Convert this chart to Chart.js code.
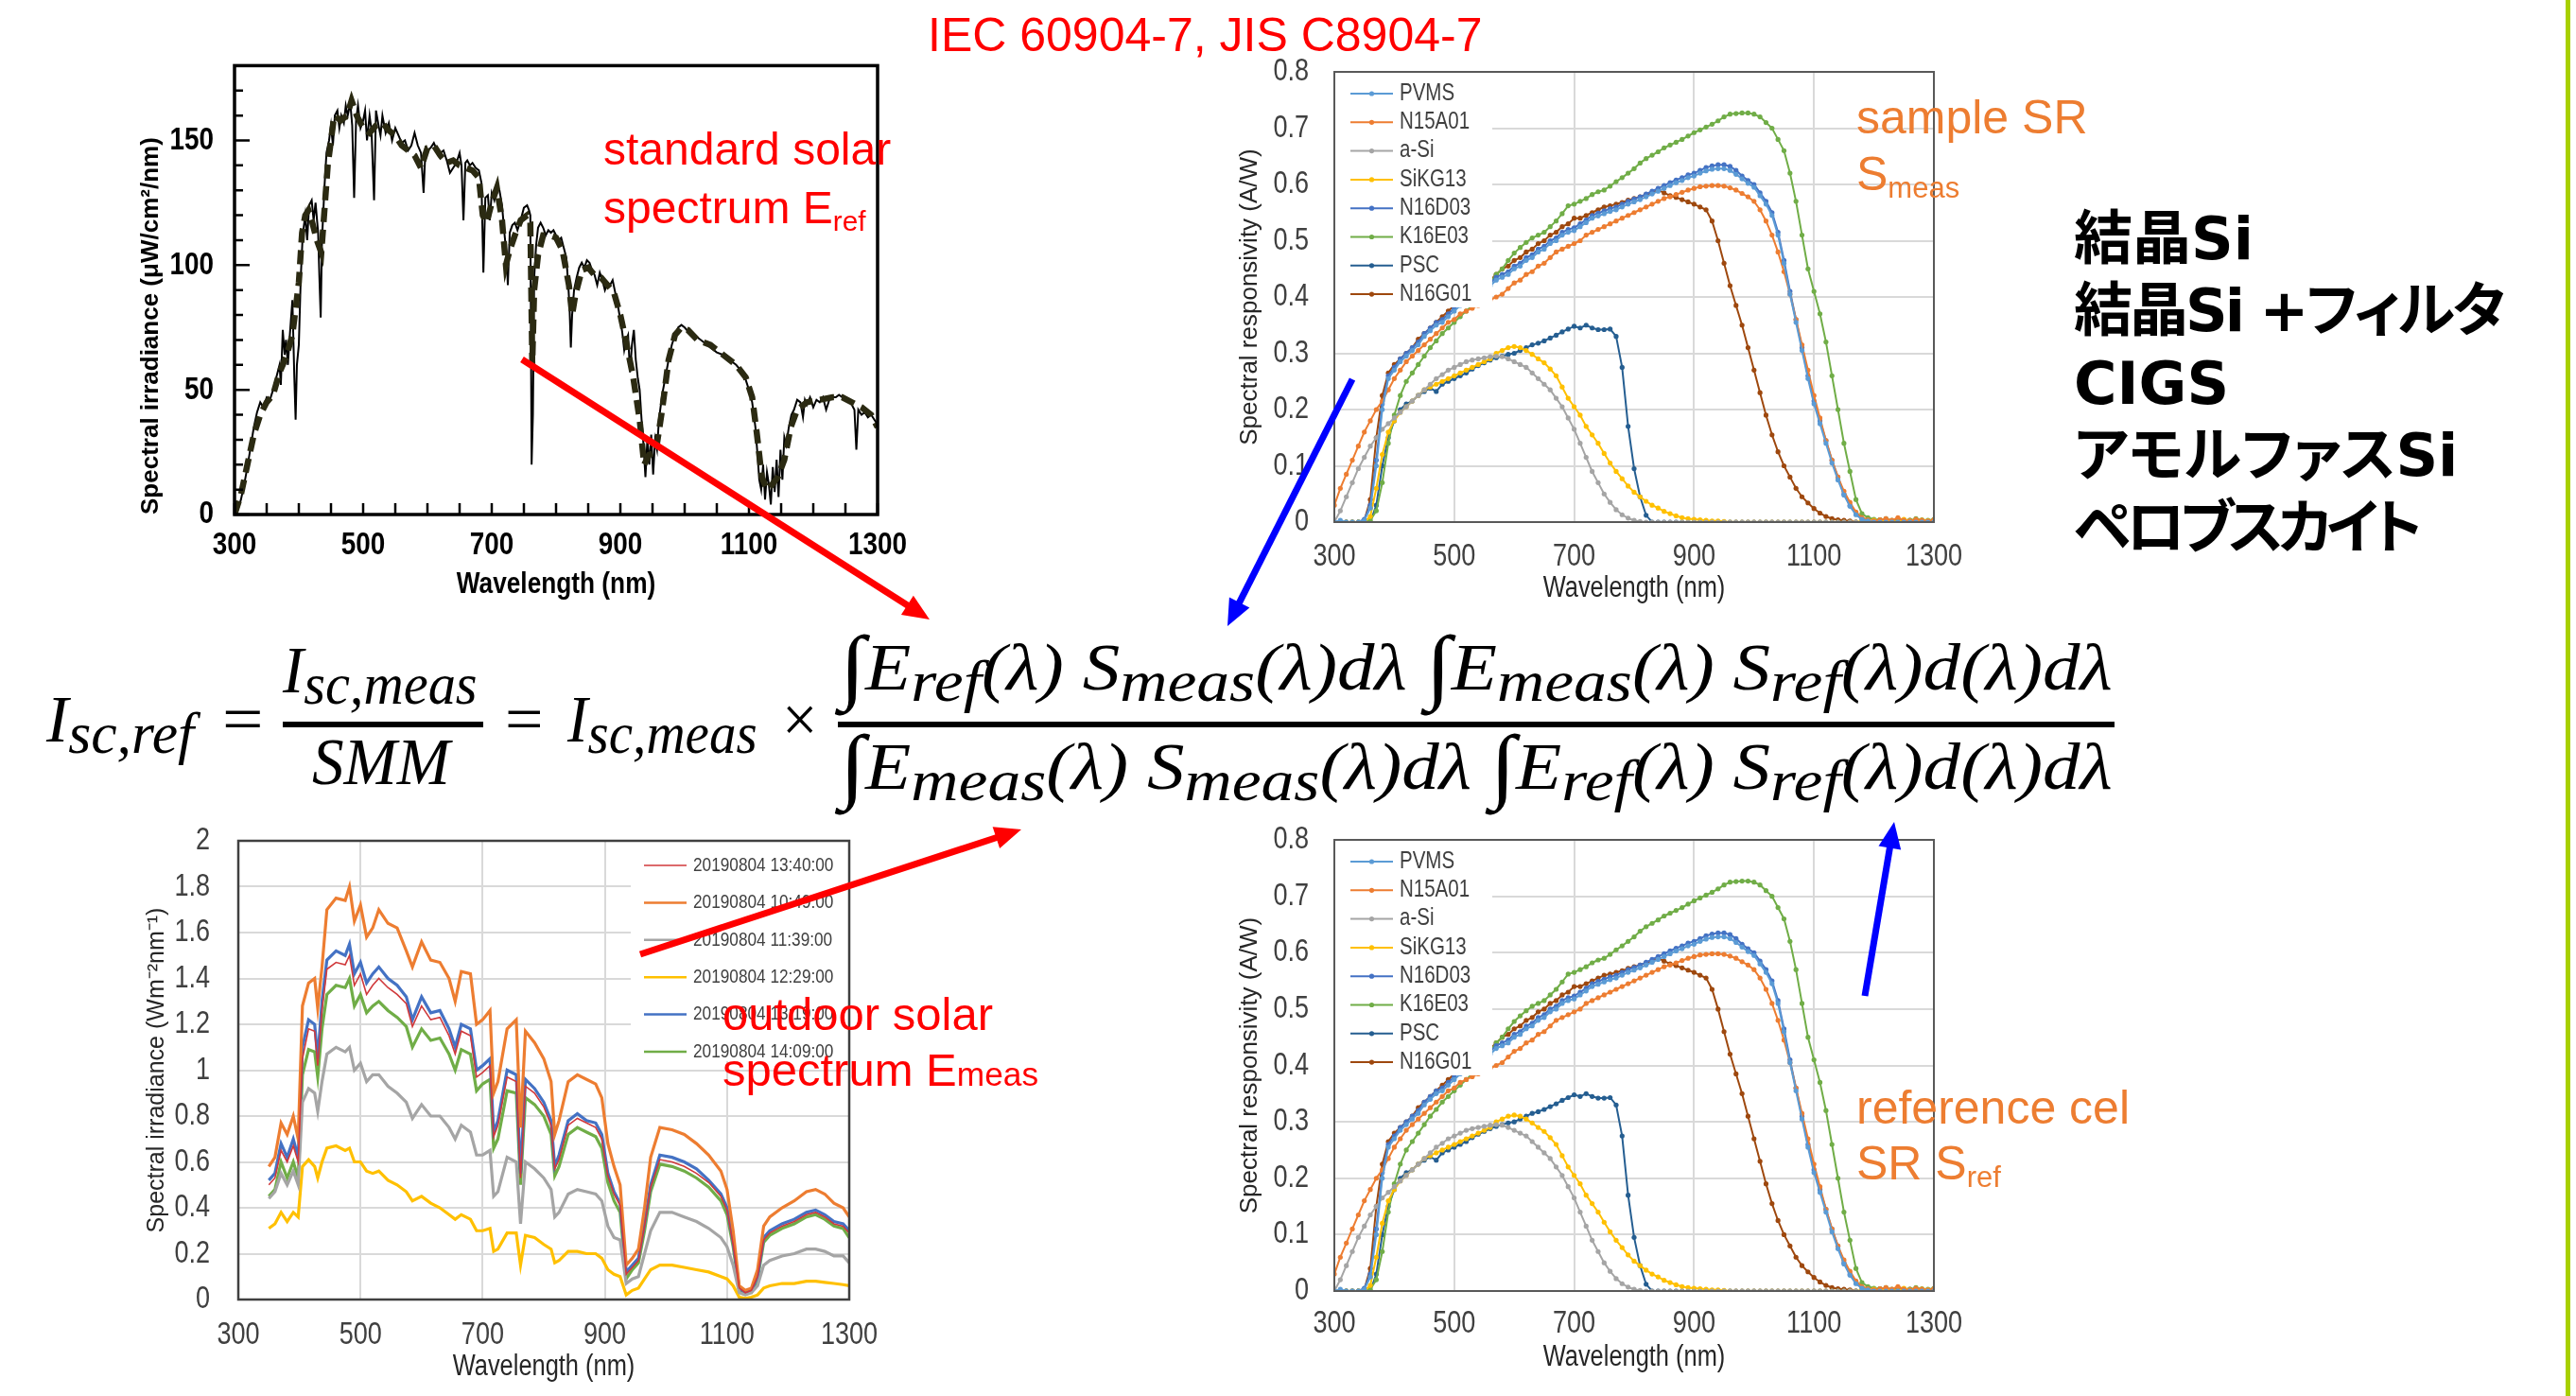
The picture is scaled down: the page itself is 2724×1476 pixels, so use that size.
<!DOCTYPE html>
<html>
<head>
<meta charset="utf-8">
<title>SMM spectral mismatch</title>
<script src="https://cdn.jsdelivr.net/npm/chart.js@4.4.1/dist/chart.umd.min.js"></script>
<style>
  html, body { margin: 0; padding: 0; background: #fff; }
  body { position: relative; width: 2724px; height: 1476px; overflow: hidden; }
  .panel { position: absolute; }
  .txt { position: absolute; white-space: nowrap; line-height: 1; font-family: "Liberation Sans", Arial, sans-serif; }
  .txt sub { font-size: 0.62em; line-height: 0; position: relative; top: 0.26em; vertical-align: baseline; }
  .txt .sm { font-size: 0.72em; }
  .red { color: #ff0000; }
  .orange { color: #ed7d31; }
  .eq { position: absolute; white-space: nowrap; line-height: 1; font-family: "Liberation Serif", serif; font-style: italic; font-size: 70px; transform-origin: 0 0; color: #000; }
  .eq.up { font-style: normal; }
  .eq sub { font-size: 0.88em; line-height: 0; position: relative; top: 0.2em; vertical-align: baseline; }
  .eq .int { font-style: normal; font-size: 1.25em; line-height: 0; position: relative; top: 0.04em; }
  .bar { position: absolute; background: #000; }
  .jp { position: absolute; white-space: nowrap; line-height: 1; font-family: "DejaVu Sans", "Noto Sans CJK JP", sans-serif; font-weight: bold; font-size: 62px; font-feature-settings: "palt"; color: #000; }
  .edge { position: absolute; left: 2713px; top: 0; width: 5px; height: 1476px; background: #a8d000; }
</style>
</head>
<body>

<div class="panel" style="left:118px;top:49px;width:850px;height:605px"><canvas id="am15"></canvas></div>
<div class="panel" style="left:1281px;top:56px;width:804px;height:596px"><canvas id="srTop"></canvas></div>
<div class="panel" style="left:122px;top:869px;width:816px;height:605px"><canvas id="outdoor"></canvas></div>
<div class="panel" style="left:1281px;top:868px;width:804px;height:597px"><canvas id="srBottom"></canvas></div>

<div class="txt red" style="left:981px;top:12px;font-size:50px">IEC 60904-7, JIS C8904-7</div>
<div class="txt red" style="left:638px;top:134px;font-size:48px">standard solar</div>
<div class="txt red" style="left:638px;top:196px;font-size:48px">spectrum E<sub>ref</sub></div>
<div class="txt orange" style="left:1963px;top:99px;font-size:50px">sample SR</div>
<div class="txt orange" style="left:1963px;top:159px;font-size:50px">S<sub>meas</sub></div>
<div class="txt red" style="left:764px;top:1048px;font-size:49px">outdoor solar</div>
<div class="txt red" style="left:764px;top:1107px;font-size:49px">spectrum E<span class="sm">meas</span></div>
<div class="txt orange" style="left:1963px;top:1146px;font-size:50px">reference cel</div>
<div class="txt orange" style="left:1963px;top:1205px;font-size:50px">SR S<sub>ref</sub></div>

<div class="jp" style="left:2193px;top:222px">結晶Si</div>
<div class="jp" style="left:2193px;top:298px;letter-spacing:-3px">結晶Si +フィルタ</div>
<div class="jp" style="left:2193px;top:375px">CIGS</div>
<div class="jp" style="left:2193px;top:451px">アモルファスSi</div>
<div class="jp" style="left:2193px;top:528px;letter-spacing:-6px">ペロブスカイト</div>

<div class="eq" data-w="156" style="left:49px;top:726px">I<sub>sc,ref</sub></div>
<div class="eq up" data-w="43" style="left:235px;top:726px">=</div>
<div class="eq" data-w="206" style="left:299px;top:674px">I<sub>sc,meas</sub></div>
<div class="bar" style="left:299px;top:763px;width:212px;height:6px"></div>
<div class="eq" data-w="146" style="left:330px;top:771px">SMM</div>
<div class="eq up" data-w="40" style="left:534px;top:726px">=</div>
<div class="eq" data-w="201" style="left:600px;top:726px">I<sub>sc,meas</sub></div>
<div class="eq up" data-w="37" style="left:827px;top:726px">×</div>
<div class="eq" data-w="1346" style="left:888px;top:671px"><span class="int">∫</span>E<sub>ref</sub>(λ) S<sub>meas</sub>(λ)dλ <span class="int">∫</span>E<sub>meas</sub>(λ) S<sub>ref</sub>(λ)d(λ)dλ</div>
<div class="bar" style="left:886px;top:763px;width:1350px;height:6px"></div>
<div class="eq" data-w="1346" style="left:888px;top:776px"><span class="int">∫</span>E<sub>meas</sub>(λ) S<sub>meas</sub>(λ)dλ <span class="int">∫</span>E<sub>ref</sub>(λ) S<sub>ref</sub>(λ)d(λ)dλ</div>

<div class="edge"></div>

<script>
// ---- standard solar spectrum (top left) ----
const AM_WL = [300,305,310,315,320,325,330,335,340,345,350,355,360,365,370,372,375,378,380,383,386,390,393,395,397,400,403,406,410,413,416,420,423,426,430,432,434,436,440,443,447,450,453,456,460,463,466,470,473,476,480,483,486,489,492,496,500,503,506,510,513,517,520,524,527,530,535,540,545,550,555,560,565,570,575,580,585,590,594,597,600,605,610,615,620,625,630,635,640,645,650,653,656,659,662,666,670,675,680,684,687,690,694,697,700,704,708,712,716,720,723,725,728,732,736,740,745,750,755,758,760,762,764,766,769,772,776,780,784,788,792,796,800,804,808,812,816,819,821,823,825,828,832,836,840,844,848,852,856,860,864,868,872,876,880,884,888,892,896,900,903,906,909,912,915,918,921,924,927,930,933,936,939,942,945,948,951,954,957,960,965,970,975,980,985,990,995,1000,1010,1020,1030,1040,1050,1060,1070,1080,1090,1095,1100,1105,1110,1113,1116,1119,1122,1125,1128,1131,1134,1137,1140,1143,1146,1149,1152,1155,1158,1162,1166,1170,1175,1180,1184,1187,1190,1195,1200,1205,1210,1215,1220,1225,1230,1235,1240,1245,1250,1255,1260,1264,1267,1270,1275,1280,1285,1290,1295,1300];
const AM_VAL = [0,2,6,12,19,27,35,41,45,43,47,46,50,55,60,52,74,64,70,60,72,86,55,38,60,68,95,112,120,110,124,126,118,125,113,95,79,110,132,145,150,156,148,160,162,155,160,157,164,160,165,156,127,158,164,155,158,162,150,160,154,126,162,156,152,160,153,157,150,155,152,149,150,146,148,153,148,145,129,147,146,147,149,146,145,146,142,137,139,141,145,140,118,141,142,140,141,139,138,133,97,127,128,118,129,126,131,130,124,112,104,92,113,116,117,114,118,123,124,122,120,20,40,95,108,115,117,115,112,114,113,114,112,110,111,107,103,92,83,67,80,90,95,99,101,99,102,101,98,96,92,97,94,90,93,92,94,89,84,78,73,66,70,72,57,68,74,62,55,50,38,28,15,30,20,32,16,30,26,38,48,55,62,68,72,75,76,75,72,71,69,67,65,64,62,60,57,54,50,45,35,25,14,10,20,6,17,12,4,19,9,22,7,26,14,31,28,35,40,42,46,45,39,46,44,47,43,46,45,47,42,46,47,47,48,47,46,46,44,42,26,42,40,41,39,40,38,36];
const AMS_WL = [300,310,320,330,340,350,360,370,380,390,400,405,410,415,420,428,435,445,455,465,475,482,490,500,510,520,530,540,550,560,570,580,590,600,610,620,630,640,650,660,670,680,686,692,700,708,716,722,728,736,745,755,760,763,766,772,780,790,800,810,820,825,830,840,850,860,870,880,890,900,910,920,930,937,945,955,965,975,985,995,1005,1020,1040,1060,1080,1095,1105,1112,1120,1128,1136,1145,1155,1165,1175,1190,1210,1230,1245,1260,1275,1290,1300];
const AMS_VAL = [0,8,20,32,40,45,48,57,63,72,93,113,120,122,118,110,105,140,160,158,160,166,160,155,153,156,157,154,152,148,146,144,139,147,148,144,141,142,140,139,138,135,120,117,125,131,118,100,106,112,118,120,117,60,90,104,112,112,111,106,92,80,88,98,99,96,95,92,89,80,68,55,38,20,24,25,42,62,72,75,74,70,68,64,60,55,47,33,15,10,12,15,22,35,42,45,46,47,47,45,43,40,35];

// ---- spectral responsivity (top right / bottom right) ----
const SR_WL = [300,310,320,330,340,350,360,370,380,390,400,410,420,430,440,450,460,470,480,490,500,510,520,530,540,550,560,570,580,590,600,610,620,630,640,650,660,670,680,690,700,710,720,730,740,750,760,770,780,790,800,810,820,830,840,850,860,870,880,890,900,910,920,930,940,950,960,970,980,990,1000,1010,1020,1030,1040,1050,1060,1070,1080,1090,1100,1110,1120,1130,1140,1150,1160,1170,1180,1190,1200,1210,1220,1230,1240,1250,1260,1270,1280,1290,1300];
const SR_NAMES = ['PVMS','N15A01','a-Si','SiKG13','N16D03','K16E03','PSC','N16G01'];
const SR_COLORS = ['#5b9bd5','#ed7d31','#a5a5a5','#ffc000','#4472c4','#70ad47','#255e91','#9e480e'];
const SR_PVMS = [0,0.003,0,0,0,0.003,0.025,0.10,0.20,0.255,
  0.27,0.285,0.295,0.305,0.315,0.33,0.34,0.35,0.355,0.365,
  0.375,0.385,0.395,0.40,0.405,0.415,0.42,0.43,0.435,0.44,
  0.45,0.455,0.465,0.47,0.48,0.485,0.495,0.50,0.51,0.515,
  0.518,0.525,0.532,0.54,0.544,0.548,0.552,0.555,0.56,0.565,
  0.569,0.573,0.578,0.583,0.588,0.593,0.598,0.603,0.607,0.612,
  0.615,0.62,0.624,0.627,0.628,0.628,0.625,0.618,0.61,0.602,
  0.595,0.58,0.565,0.545,0.51,0.46,0.405,0.355,0.305,0.255,
  0.21,0.175,0.14,0.105,0.075,0.048,0.028,0.013,0.005,0.002,
  0,0,0,0,0,0,0,0,0,0,0];
const SR_N15A01 = [0.03,0.06,0.085,0.11,0.135,0.16,0.18,0.20,0.215,0.235,
  0.255,0.27,0.285,0.295,0.305,0.315,0.325,0.335,0.345,0.355,
  0.36,0.37,0.375,0.38,0.385,0.39,0.395,0.40,0.405,0.415,
  0.425,0.43,0.44,0.445,0.455,0.46,0.47,0.48,0.485,0.49,
  0.495,0.50,0.51,0.515,0.52,0.525,0.53,0.535,0.54,0.545,
  0.55,0.555,0.56,0.565,0.57,0.575,0.578,0.582,0.586,0.59,
  0.593,0.596,0.597,0.598,0.598,0.597,0.594,0.59,0.584,0.578,
  0.57,0.555,0.535,0.51,0.48,0.445,0.405,0.36,0.315,0.27,
  0.225,0.185,0.145,0.11,0.08,0.055,0.035,0.018,0.008,0.004,
  0.002,0.004,0.006,0.003,0.008,0.003,0.002,0.005,0.003,0.002,0.004];
const SR_ASI = [0,0.02,0.045,0.07,0.095,0.115,0.135,0.15,0.165,0.175,
  0.185,0.195,0.205,0.215,0.225,0.235,0.245,0.255,0.262,0.27,
  0.275,0.28,0.285,0.288,0.29,0.292,0.294,0.295,0.294,0.29,
  0.285,0.28,0.275,0.265,0.255,0.245,0.235,0.22,0.205,0.185,
  0.165,0.14,0.115,0.09,0.07,0.05,0.035,0.022,0.013,0.007,
  0.003,0.001,0,0,0,0,0,0,0,0,
  0,0,0,0,0,0,0,0,0,0,
  0,0,0,0,0,0,0,0,0,0,
  0,0,0,0,0,0,0,0,0,0,
  0,0,0,0,0,0,0,0,0,0,0];
const SR_SIKG13 = [0,0,0,0,0,0,0.01,0.06,0.12,0.16,
  0.18,0.195,0.205,0.215,0.225,0.235,0.24,0.245,0.25,0.255,
  0.26,0.265,0.27,0.275,0.28,0.285,0.29,0.30,0.305,0.31,
  0.312,0.31,0.305,0.298,0.29,0.283,0.272,0.26,0.24,0.22,
  0.205,0.19,0.17,0.155,0.14,0.122,0.105,0.09,0.077,0.064,
  0.053,0.045,0.037,0.03,0.025,0.019,0.015,0.011,0.008,0.006,
  0.005,0.004,0.003,0.002,0.002,0.001,0,0,0,0,
  0,0,0,0,0,0,0,0,0,0,
  0,0,0,0,0,0,0,0,0.002,0,
  0.003,0,0.004,0.002,0,0.005,0.002,0,0.003,0.002,0];
const SR_N16D03 = [0,0,0,0,0,0.005,0.03,0.11,0.21,0.26,
  0.275,0.29,0.30,0.31,0.32,0.335,0.345,0.355,0.36,0.37,
  0.38,0.39,0.40,0.405,0.41,0.42,0.425,0.435,0.44,0.445,
  0.455,0.46,0.47,0.475,0.485,0.49,0.50,0.505,0.515,0.52,
  0.523,0.53,0.537,0.545,0.549,0.553,0.557,0.56,0.565,0.57,
  0.574,0.578,0.583,0.588,0.593,0.598,0.603,0.608,0.612,0.617,
  0.62,0.625,0.63,0.633,0.635,0.635,0.632,0.625,0.615,0.607,
  0.60,0.585,0.57,0.55,0.515,0.465,0.41,0.36,0.31,0.26,
  0.215,0.18,0.145,0.11,0.08,0.05,0.03,0.015,0.006,0.002,
  0,0,0,0,0,0,0,0,0,0,0];
const SR_K16E03 = [0,0,0,0,0,0,0.003,0.02,0.07,0.14,
  0.19,0.225,0.25,0.265,0.28,0.295,0.31,0.322,0.335,0.345,
  0.355,0.365,0.375,0.385,0.395,0.41,0.425,0.44,0.45,0.465,
  0.478,0.488,0.497,0.505,0.51,0.515,0.525,0.535,0.548,0.562,
  0.565,0.57,0.575,0.582,0.587,0.59,0.597,0.605,0.612,0.62,
  0.628,0.638,0.646,0.652,0.658,0.665,0.67,0.675,0.68,0.686,
  0.692,0.697,0.702,0.707,0.713,0.72,0.725,0.726,0.727,0.727,
  0.725,0.72,0.71,0.70,0.68,0.66,0.62,0.57,0.51,0.45,
  0.41,0.37,0.32,0.26,0.20,0.14,0.09,0.04,0.015,0.008,
  0.005,0.004,0.006,0.003,0.005,0.004,0.003,0.006,0.004,0.003,0.005];
const SR_PSC = [0,0,0,0,0,0,0,0.03,0.10,0.15,
  0.18,0.20,0.21,0.215,0.225,0.232,0.238,0.232,0.245,0.25,
  0.255,0.26,0.265,0.272,0.278,0.283,0.288,0.292,0.295,0.298,
  0.30,0.305,0.31,0.315,0.318,0.322,0.327,0.332,0.338,0.343,
  0.348,0.345,0.35,0.345,0.342,0.342,0.343,0.33,0.275,0.17,
  0.095,0.045,0.012,0,0,0,0,0,0,0,
  0,0,0,0,0,0,0,0,0,0,
  0,0,0,0,0,0,0,0,0,0,
  0,0,0,0,0,0,0,0,0,0,
  0,0,0,0,0,0,0,0,0,0,0];
const SR_N16G01 = [0,0,0,0,0,0.003,0.04,0.15,0.225,0.265,
  0.28,0.29,0.30,0.31,0.325,0.335,0.345,0.355,0.365,0.375,
  0.385,0.395,0.405,0.41,0.415,0.42,0.43,0.44,0.45,0.455,
  0.465,0.47,0.48,0.485,0.495,0.50,0.51,0.515,0.525,0.53,
  0.54,0.54,0.545,0.55,0.555,0.56,0.562,0.565,0.568,0.572,
  0.575,0.578,0.582,0.585,0.59,0.585,0.58,0.577,0.573,0.569,
  0.565,0.56,0.555,0.535,0.50,0.46,0.42,0.385,0.35,0.31,
  0.27,0.23,0.19,0.155,0.125,0.1,0.08,0.06,0.045,0.034,
  0.024,0.016,0.01,0.006,0.004,0.003,0.002,0,0,0.003,
  0,0.004,0,0.002,0.005,0,0.003,0,0.002,0,0];
const SR_SERIES = [SR_PVMS, SR_N15A01, SR_ASI, SR_SIKG13, SR_N16D03, SR_K16E03, SR_PSC, SR_N16G01];

// ---- outdoor spectra (bottom left) ----
const OUT_WL = [350,360,370,380,390,398,405,415,425,430,437,445,460,475,482,490,500,510,520,530,545,560,575,585,600,615,630,645,655,665,680,690,700,712,718,725,740,755,762,770,785,800,812,818,825,840,855,870,885,895,905,915,925,935,945,955,965,975,990,1010,1030,1050,1070,1090,1100,1110,1120,1130,1140,1150,1160,1170,1190,1210,1230,1245,1260,1275,1290,1300];
const OUT_NAMES = ['20190804 13:40:00','20190804 10:49:00','20190804 11:39:00','20190804 12:29:00','20190804 13:19:00','20190804 14:09:00'];
const OUT_COLORS = ['#d0393b','#ed7d31','#a5a5a5','#ffc000','#4472c4','#70ad47'];
const OUT_1340 = [0.50,0.53,0.65,0.60,0.67, 0.60,1.05,1.18,1.17,1.02, 1.26,1.44,1.47,1.46,1.50, 1.37,1.42,1.33,1.37,1.40, 1.36,1.33,1.29,1.19,1.28, 1.22,1.23,1.15,1.07,1.17, 1.15,0.97,0.99,1.02,0.71, 0.76,0.97,0.95,0.53,0.93, 0.90,0.84,0.76,0.57,0.61, 0.76,0.79,0.77,0.75,0.70, 0.54,0.46,0.41,0.11,0.14, 0.17,0.32,0.49,0.61,0.60, 0.58,0.55,0.51,0.45,0.39, 0.24,0.05,0.03,0.04,0.10, 0.26,0.29,0.32,0.34,0.37, 0.38,0.36,0.33,0.32,0.29];
const OUT_1049 = [0.58,0.62,0.77,0.72,0.80, 0.70,1.28,1.38,1.40,1.27, 1.45,1.70,1.75,1.74,1.80, 1.65,1.72,1.58,1.62,1.70, 1.64,1.62,1.52,1.45,1.56, 1.48,1.47,1.40,1.30,1.43, 1.42,1.20,1.22,1.26,0.90, 0.95,1.18,1.22,0.75,1.17, 1.12,1.05,0.95,0.72,0.78, 0.95,0.98,0.96,0.94,0.88, 0.68,0.58,0.50,0.15,0.18, 0.22,0.40,0.62,0.75,0.74, 0.72,0.68,0.63,0.56,0.48, 0.30,0.06,0.04,0.05,0.13, 0.32,0.36,0.40,0.43,0.47, 0.48,0.46,0.42,0.40,0.36];
const OUT_1139 = [0.44,0.47,0.55,0.50,0.56, 0.50,0.86,0.92,0.90,0.82, 0.95,1.07,1.10,1.08,1.10, 1.00,1.03,0.95,0.98,0.98, 0.93,0.90,0.86,0.79,0.85, 0.80,0.80,0.75,0.70,0.76, 0.73,0.63,0.63,0.65,0.45, 0.47,0.62,0.60,0.33,0.60, 0.57,0.53,0.48,0.36,0.38, 0.46,0.48,0.47,0.46,0.43, 0.32,0.27,0.26,0.07,0.09, 0.10,0.20,0.30,0.38,0.38, 0.36,0.34,0.31,0.27,0.23, 0.15,0.03,0.02,0.03,0.06, 0.15,0.17,0.19,0.20,0.22, 0.22,0.21,0.19,0.19,0.16];
const OUT_1229 = [0.31,0.33,0.38,0.34,0.38, 0.36,0.58,0.61,0.58,0.53, 0.60,0.66,0.67,0.65,0.66, 0.60,0.60,0.56,0.55,0.56, 0.52,0.50,0.47,0.43,0.45, 0.42,0.40,0.37,0.35,0.37, 0.35,0.30,0.30,0.31,0.21, 0.22,0.29,0.29,0.15,0.28, 0.27,0.24,0.22,0.16,0.17, 0.21,0.21,0.20,0.20,0.18, 0.13,0.11,0.10,0.02,0.04, 0.05,0.09,0.13,0.15,0.15, 0.14,0.13,0.12,0.10,0.09, 0.06,0.01,0.005,0.01,0.02, 0.05,0.06,0.07,0.07,0.08, 0.08,0.075,0.07,0.065,0.06];
const OUT_1319 = [0.52,0.55,0.68,0.62,0.70, 0.62,1.10,1.22,1.20,1.05, 1.30,1.48,1.52,1.50,1.55, 1.42,1.47,1.38,1.42,1.45, 1.40,1.37,1.32,1.22,1.32, 1.25,1.26,1.18,1.10,1.20, 1.18,1.00,1.02,1.05,0.73, 0.78,1.00,0.98,0.55,0.96, 0.92,0.86,0.78,0.58,0.63, 0.78,0.81,0.78,0.77,0.72, 0.55,0.47,0.42,0.12,0.15, 0.18,0.33,0.50,0.63,0.62, 0.60,0.57,0.52,0.46,0.40, 0.25,0.05,0.03,0.04,0.10, 0.27,0.30,0.33,0.35,0.38, 0.39,0.37,0.34,0.33,0.30];
const OUT_1409 = [0.45,0.48,0.60,0.53,0.60, 0.53,0.98,1.09,1.08,0.97, 1.18,1.33,1.37,1.36,1.40, 1.28,1.33,1.25,1.28,1.30, 1.26,1.23,1.19,1.10,1.18, 1.13,1.14,1.07,1.00,1.09, 1.07,0.91,0.94,0.96,0.66, 0.70,0.91,0.90,0.50,0.88, 0.85,0.80,0.72,0.54,0.58, 0.72,0.75,0.73,0.71,0.66, 0.51,0.43,0.38,0.09,0.13, 0.16,0.30,0.47,0.59,0.58, 0.56,0.53,0.49,0.43,0.37, 0.23,0.04,0.03,0.03,0.09, 0.25,0.28,0.31,0.33,0.36, 0.37,0.35,0.32,0.31,0.27];
const OUT_SERIES = [OUT_1340, OUT_1049, OUT_1139, OUT_1229, OUT_1319, OUT_1409];
const OUT_WIDTHS = [1.6, 3.2, 3.2, 3.2, 3.2, 3.2];

// ---- fonts: the slide's charts use a narrow face, so horizontal text is squeezed ----
const FAM = '"Liberation Sans", Arial, sans-serif';
const SQUEEZE = 0.82;

Chart.defaults.animation = false;
Chart.defaults.maintainAspectRatio = false;
Chart.defaults.plugins.legend.display = false;
Chart.defaults.plugins.tooltip.enabled = false;
Chart.defaults.font.family = FAM;

Chart.register({
  id: 'narrowText',
  beforeInit(chart) {
    const ctx = chart.ctx;
    const fill = ctx.fillText.bind(ctx);
    ctx.fillText = function (t, x, y, maxWidth) {
      const m = ctx.getTransform();
      if (Math.abs(m.b) > 1e-6) return maxWidth === undefined ? fill(t, x, y) : fill(t, x, y, maxWidth);
      ctx.save();
      ctx.translate(x, y);
      ctx.scale(SQUEEZE, 1);
      fill(t, 0, 0);
      ctx.restore();
    };
  }
});

const pairs = (xs, ys) => xs.map((x, i) => ({ x: x, y: ys[i] }));
const plain = v => String(Number(v.toFixed(2)));
const HIDDEN = 'rgba(0,0,0,0)';

// frame, inward ticks and an in-plot legend with a white box
function drawLegend(chart, L) {
  const { ctx, chartArea: a } = chart;
  const bx = L.right ? a.right - L.w : a.left;
  ctx.fillStyle = '#fff';
  ctx.fillRect(bx, a.top, L.w, L.h);
  ctx.font = L.size + 'px ' + FAM;
  ctx.textBaseline = 'middle';
  ctx.textAlign = 'left';
  chart.data.datasets.forEach((ds, i) => {
    const yy = a.top + L.y0 + i * L.dy;
    const x0 = bx + L.x0;
    ctx.strokeStyle = ds.borderColor;
    ctx.lineWidth = Math.min(ds.borderWidth, 2.5);
    ctx.beginPath(); ctx.moveTo(x0, yy); ctx.lineTo(x0 + L.len, yy); ctx.stroke();
    if (L.marker) {
      ctx.fillStyle = ds.borderColor;
      ctx.beginPath(); ctx.arc(x0 + L.len / 2, yy, 2.6, 0, Math.PI * 2); ctx.fill();
    }
    ctx.fillStyle = L.color;
    ctx.fillText(ds.label, x0 + L.len + L.gap, yy);
  });
}

const decor = {
  id: 'decor',
  afterDatasetsDraw(chart, args, o) {
    const { ctx, chartArea: a, scales } = chart;
    ctx.save();
    if (o.legend) drawLegend(chart, o.legend);
    if (o.minor) {
      const m = o.minor, x = scales.x, y = scales.y;
      ctx.strokeStyle = o.frame;
      ctx.lineWidth = 2.5;
      ctx.beginPath();
      for (let v = x.min; v <= x.max; v += m.x) {
        const p = x.getPixelForValue(v);
        ctx.moveTo(p, a.bottom); ctx.lineTo(p, a.bottom - m.xLen);
      }
      for (let v = y.min; v < y.max; v += m.y) {
        const p = y.getPixelForValue(v);
        const len = v % m.yMajor === 0 ? m.yMajorLen : m.yLen;
        ctx.moveTo(a.left, p); ctx.lineTo(a.left + len, p);
      }
      ctx.stroke();
    }
    ctx.strokeStyle = o.frame;
    ctx.lineWidth = o.frameWidth;
    ctx.strokeRect(a.left, a.top, a.right - a.left, a.bottom - a.top);
    ctx.restore();
  }
};

// label gaps come from invisible tick marks, so they do not push the plot area around
const layout = { padding: { top: 20, right: 40, left: 0, bottom: 0 } };

// top left: AM1.5G
new Chart(document.getElementById('am15'), {
  type: 'line',
  data: {
    datasets: [
      { label: 'AM1.5G (smoothed)', data: pairs(AMS_WL, AMS_VAL), borderColor: '#2b2a12', borderWidth: 6.5, borderDash: [15, 8], pointRadius: 0 },
      { label: 'AM1.5G', data: pairs(AM_WL, AM_VAL), borderColor: '#000', borderWidth: 2, pointRadius: 0 }
    ]
  },
  options: {
    layout: layout,
    scales: {
      x: {
        type: 'linear', min: 300, max: 1300,
        grid: { display: false, tickLength: 12 }, border: { display: false },
        ticks: { stepSize: 200, padding: 0, color: '#000', maxRotation: 0, font: { size: 34, weight: 'bold' }, callback: plain },
        title: { display: true, text: 'Wavelength (nm)', color: '#000', font: { size: 32, weight: 'bold' }, padding: { top: 0, bottom: 17 } },
        afterFit: s => { s.height = 110; }
      },
      y: {
        type: 'linear', min: 0, max: 180,
        grid: { display: false, tickLength: 22 }, border: { display: false },
        ticks: { stepSize: 50, includeBounds: false, padding: 0, color: '#000', font: { size: 34, weight: 'bold' } },
        title: { display: true, align: 'start', text: 'Spectral irradiance (μW/cm²/nm)', color: '#000', font: { size: 26, weight: 'bold' }, padding: { top: 26, bottom: 0 } },
        afterFit: s => { s.width = 130; }
      }
    },
    plugins: { decor: { frame: '#000', frameWidth: 3.5, minor: { x: 50, xLen: 12, y: 10, yLen: 9, yMajor: 50, yMajorLen: 16 } } }
  },
  plugins: [decor]
});

// right: spectral responsivity (same data drawn twice)
function srChart(id, xGap) {
  new Chart(document.getElementById(id), {
    type: 'line',
    data: {
      datasets: SR_SERIES.map((vals, i) => ({
        label: SR_NAMES[i], data: pairs(SR_WL, vals),
        borderColor: SR_COLORS[i], backgroundColor: SR_COLORS[i], borderWidth: 2,
        pointRadius: 2.6, pointBorderWidth: 0, pointBackgroundColor: SR_COLORS[i]
      }))
    },
    options: {
      layout: layout,
      scales: {
        x: {
          type: 'linear', min: 300, max: 1300,
          grid: { color: '#d9d9d9', lineWidth: 2, tickLength: xGap, tickColor: HIDDEN }, border: { display: false },
          ticks: { stepSize: 200, padding: 0, color: '#404040', maxRotation: 0, font: { size: 33 }, callback: plain },
          title: { display: true, text: 'Wavelength (nm)', color: '#262626', font: { size: 31 }, padding: { top: 0, bottom: 11 } },
          afterFit: s => { s.height = 100; }
        },
        y: {
          type: 'linear', min: 0, max: 0.8,
          grid: { color: '#d9d9d9', lineWidth: 2, tickLength: 27, tickColor: HIDDEN }, border: { display: false },
          ticks: { stepSize: 0.1, padding: 0, color: '#404040', font: { size: 33 }, callback: plain },
          title: { display: true, text: 'Spectral responsivity (A/W)', color: '#262626', font: { size: 26 }, padding: { top: 25, bottom: 0 } },
          afterFit: s => { s.width = 130; }
        }
      },
      plugins: {
        decor: {
          frame: '#595959', frameWidth: 2,
          legend: { w: 167, h: 249, x0: 17, y0: 23, dy: 30.3, len: 45, gap: 7, size: 25, color: '#404040', marker: true }
        }
      }
    },
    plugins: [decor]
  });
}
srChart('srTop', 17);
srChart('srBottom', 15);

// bottom left: outdoor spectra
new Chart(document.getElementById('outdoor'), {
  type: 'line',
  data: {
    datasets: OUT_SERIES.map((vals, i) => ({
      label: OUT_NAMES[i], data: pairs(OUT_WL, vals),
      borderColor: OUT_COLORS[i], borderWidth: OUT_WIDTHS[i], pointRadius: 0
    }))
  },
  options: {
    layout: layout,
    scales: {
      x: {
        type: 'linear', min: 300, max: 1300,
        grid: { color: '#d9d9d9', lineWidth: 2, tickLength: 18, tickColor: HIDDEN }, border: { display: false },
        ticks: { stepSize: 200, padding: 0, color: '#404040', maxRotation: 0, font: { size: 33 }, callback: plain },
        title: { display: true, text: 'Wavelength (nm)', color: '#262626', font: { size: 31 }, padding: { top: 0, bottom: 10 } },
        afterFit: s => { s.height = 100; }
      },
      y: {
        type: 'linear', min: 0, max: 2,
        grid: { color: '#d9d9d9', lineWidth: 2, tickLength: 30, tickColor: HIDDEN }, border: { display: false },
        ticks: { stepSize: 0.2, padding: 0, color: '#404040', font: { size: 33 }, callback: plain },
        title: { display: true, text: 'Spectral irradiance (Wm⁻²nm⁻¹)', color: '#262626', font: { size: 25 }, padding: { top: 29, bottom: 0 } },
        afterFit: s => { s.width = 130; }
      }
    },
    plugins: {
      decor: {
        frame: '#404040', frameWidth: 2.5,
        legend: { right: true, w: 231, h: 233, x0: 14, y0: 26, dy: 39.4, len: 45, gap: 7, size: 21, color: '#404040', marker: false }
      }
    }
  },
  plugins: [decor]
});

// squeeze the formula pieces to the widths they have on the slide
document.querySelectorAll('.eq[data-w]').forEach(el => {
  const w = +el.dataset.w;
  el.style.transform = 'scaleX(' + (w / el.offsetWidth) + ')';
});

// arrows
const ARROWS = [
  { from: [552, 380], to: [983, 655], color: '#ff0000' },
  { from: [1430, 401], to: [1298, 662], color: '#0000ff' },
  { from: [677, 1009], to: [1080, 877], color: '#ff0000' },
  { from: [1972, 1053], to: [2003, 869], color: '#0000ff' }
];
(function drawArrows() {
  const ns = 'http://www.w3.org/2000/svg';
  const svg = document.createElementNS(ns, 'svg');
  svg.setAttribute('width', 2724);
  svg.setAttribute('height', 1476);
  svg.style.cssText = 'position:absolute;left:0;top:0;pointer-events:none';
  ARROWS.forEach(a => {
    const [x1, y1] = a.from, [x2, y2] = a.to;
    const L = Math.hypot(x2 - x1, y2 - y1), ux = (x2 - x1) / L, uy = (y2 - y1) / L;
    const head = 28, half = 12;
    const bx = x2 - ux * head, by = y2 - uy * head;
    const line = document.createElementNS(ns, 'line');
    line.setAttribute('x1', x1); line.setAttribute('y1', y1);
    line.setAttribute('x2', bx + ux * 3); line.setAttribute('y2', by + uy * 3);
    line.setAttribute('stroke', a.color); line.setAttribute('stroke-width', 7);
    svg.appendChild(line);
    const poly = document.createElementNS(ns, 'polygon');
    poly.setAttribute('points', [x2, y2, bx - uy * half, by + ux * half, bx + uy * half, by - ux * half].join(' '));
    poly.setAttribute('fill', a.color);
    svg.appendChild(poly);
  });
  document.body.appendChild(svg);
})();
</script>
</body>
</html>
